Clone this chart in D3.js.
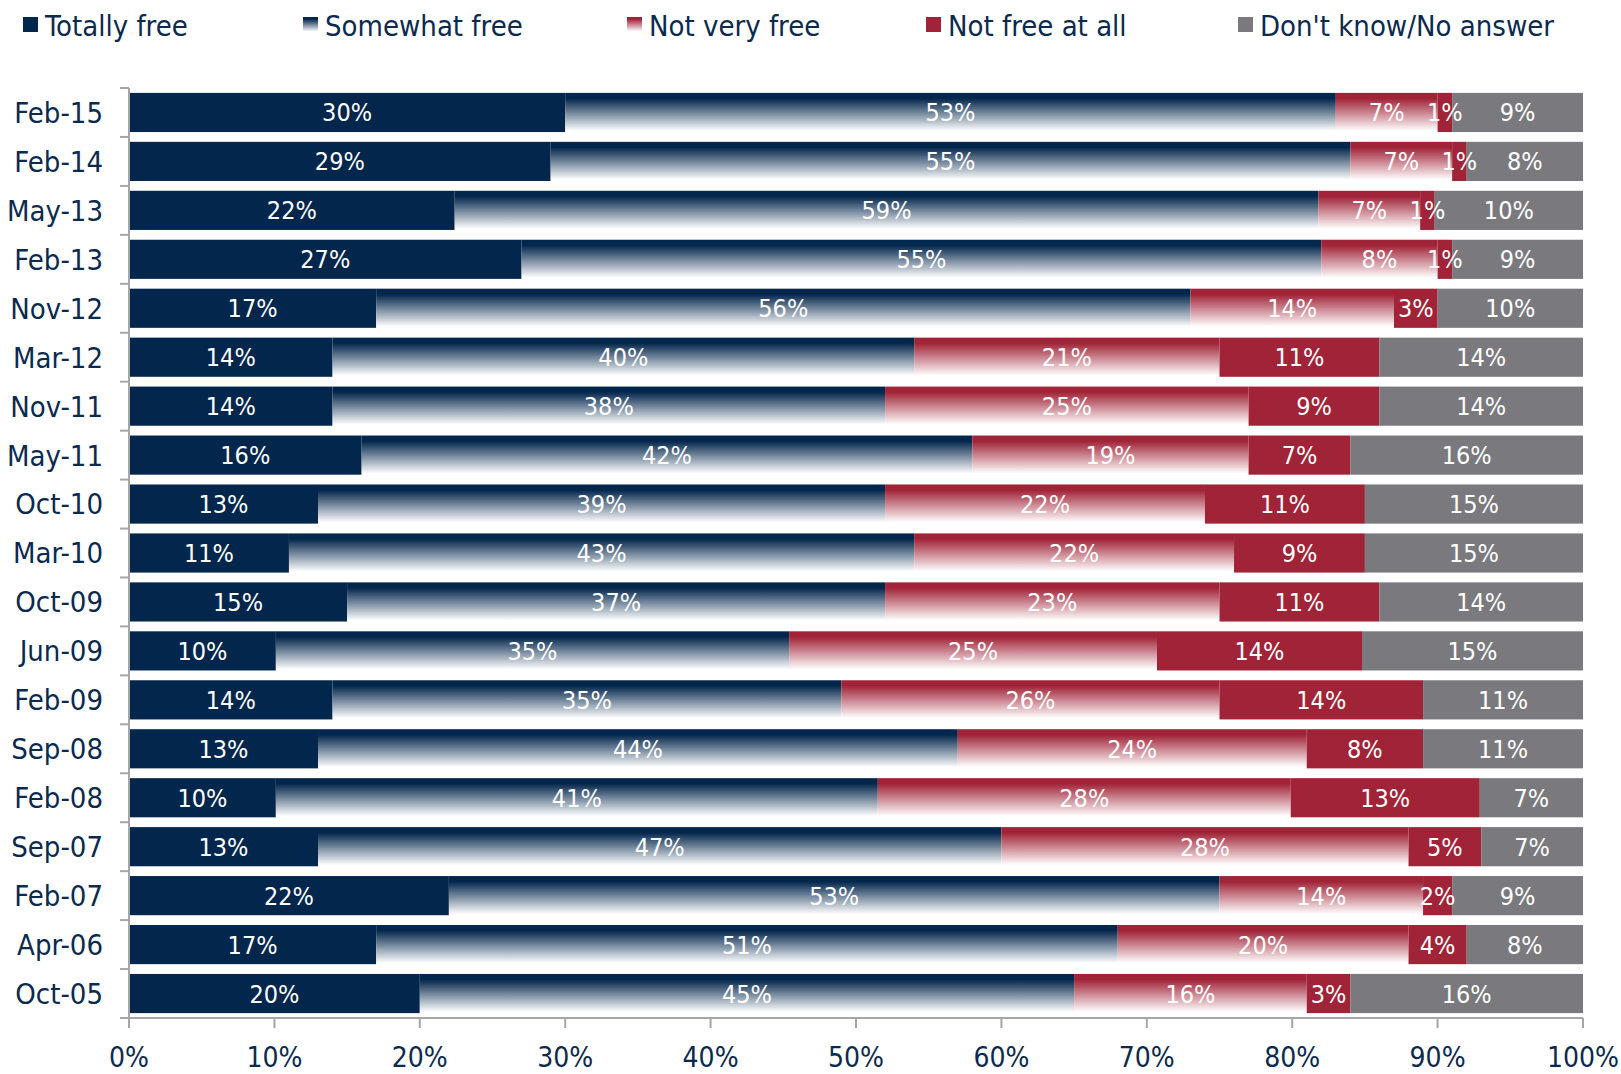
<!DOCTYPE html>
<html><head><meta charset="utf-8">
<script src="https://cdn.jsdelivr.net/npm/d3@7/dist/d3.min.js"></script>
<style>
html,body{margin:0;padding:0;background:#fff;}
svg{display:block;}
text{font-family:"DejaVu Sans Condensed","DejaVu Sans",sans-serif;}
</style></head>
<body>
<svg id="chart" width="1621" height="1074"></svg>
<script>
const categories = ["Feb-15","Feb-14","May-13","Feb-13","Nov-12","Mar-12","Nov-11","May-11","Oct-10","Mar-10","Oct-09","Jun-09","Feb-09","Sep-08","Feb-08","Sep-07","Feb-07","Apr-06","Oct-05"];
const seriesNames = ["Totally free","Somewhat free","Not very free","Not free at all","Don't know/No answer"];
const totallyFree   = [30,29,22.4,27,17,14,14,16,13,11,15,10.1,14,13,10.1,13,22,17,20];
const somewhatFree  = [53,55,59.4,55,56,40,38,42,39,43,37,35.3,35,44,41.4,47,53,51,45];
const notVeryFree   = [7,7,7,8,14,21,25,19,22,22,23,25.3,26,24,28.4,28,14,20,16];
const notFreeAtAll  = [1,1,1,1,3,11,9,7,11,9,11,14.1,14,8,13,5,2,4,3];
const dontKnow      = [9,8,10.2,9,10,14,14,16,15,15,14,15.2,11,11,7.1,7,9,8,16];
const xTicks = [0,10,20,30,40,50,60,70,80,90,100];

const seriesValues = [totallyFree, somewhatFree, notVeryFree, notFreeAtAll, dontKnow];
const baseColors = ["#03264c","#03264c","#a02337","#a02337","#7a7a7e"];
const gradient = [false,true,true,false,false];
const textColor = "#0b2a4e";

const svg = d3.select("#chart");
const defs = svg.append("defs");
const fills = baseColors.map((c,i)=>{
  if(!gradient[i]) return c;
  const id = "grad"+i;
  const g = defs.append("linearGradient").attr("id",id)
    .attr("x1",0).attr("y1",0).attr("x2",0).attr("y2",1);
  g.append("stop").attr("offset","0%").attr("stop-color",c);
  g.append("stop").attr("offset","14%").attr("stop-color",c);
  g.append("stop").attr("offset","97%").attr("stop-color","#ffffff");
  g.append("stop").attr("offset","100%").attr("stop-color","#ffffff");
  return "url(#"+id+")";
});

const margin = {left:129, right:1583, top:88, bottom:1018};
const x = d3.scaleLinear().domain([0,100]).range([margin.left, margin.right]);
const y = d3.scaleBand().domain(categories).range([margin.top, margin.bottom]).paddingInner(0.2).paddingOuter(0.1);

// stacked data
const rows = categories.map((c,i)=>{
  const o = {cat:c};
  seriesNames.forEach((s,j)=>o[s]=seriesValues[j][i]);
  return o;
});
const stack = d3.stack().keys(seriesNames)(rows);

const gBars = svg.append("g");
stack.forEach((layer,j)=>{
  gBars.append("g").selectAll("rect").data(layer).enter().append("rect")
    .attr("x", d=>x(d[0]))
    .attr("y", d=>y(d.data.cat))
    .attr("width", d=>x(d[1])-x(d[0]))
    .attr("height", y.bandwidth())
    .attr("fill", fills[j]);
});
const gLabels = svg.append("g");
stack.forEach((layer,j)=>{
  gLabels.append("g").selectAll("text").data(layer).enter().append("text")
    .attr("x", d=>(x(d[0])+x(d[1]))/2)
    .attr("y", d=>y(d.data.cat)+y.bandwidth()/2)
    .attr("dy","0.36em")
    .attr("text-anchor","middle")
    .attr("fill","#ffffff")
    .attr("font-size",25)
    .text(d=>Math.round(d[1]-d[0])+"%");
});

// y axis
const yAxis = svg.append("g");
yAxis.append("line").attr("x1",margin.left).attr("x2",margin.left)
  .attr("y1",margin.top).attr("y2",margin.bottom)
  .attr("stroke","#a6a6a6").attr("stroke-width",2);
const boundaries = categories.map(c=>y(c)-y.step()*y.paddingInner()/2);
boundaries.push(margin.bottom);
yAxis.selectAll("line.t").data(boundaries).enter().append("line")
  .attr("class","t")
  .attr("x1",margin.left-9).attr("x2",margin.left)
  .attr("y1",d=>d).attr("y2",d=>d)
  .attr("stroke","#a6a6a6").attr("stroke-width",2);
yAxis.selectAll("text").data(categories).enter().append("text")
  .attr("x",103)
  .attr("y",d=>y(d)+y.bandwidth()/2)
  .attr("dy","0.36em")
  .attr("text-anchor","end")
  .attr("fill",textColor)
  .attr("font-size",29)
  .text(d=>d);

// x axis
const xAxis = svg.append("g");
xAxis.append("line").attr("x1",margin.left).attr("x2",margin.right)
  .attr("y1",margin.bottom).attr("y2",margin.bottom)
  .attr("stroke","#a6a6a6").attr("stroke-width",2);
xAxis.selectAll("line.t").data(xTicks).enter().append("line")
  .attr("class","t")
  .attr("x1",d=>x(d)).attr("x2",d=>x(d))
  .attr("y1",margin.bottom).attr("y2",margin.bottom+10)
  .attr("stroke","#a6a6a6").attr("stroke-width",2);
xAxis.selectAll("text").data(xTicks).enter().append("text")
  .attr("x",d=>x(d))
  .attr("y",1067)
  .attr("text-anchor","middle")
  .attr("fill",textColor)
  .attr("font-size",28)
  .text(d=>d+"%");

// legend
const legendX = [23,303,627,926,1238];
const legend = svg.append("g");
seriesNames.forEach((s,j)=>{
  legend.append("rect").attr("x",legendX[j]).attr("y",17).attr("width",15).attr("height",15)
    .attr("fill",fills[j]);
  legend.append("text").attr("x",legendX[j]+22).attr("y",36)
    .attr("fill",textColor).attr("font-size",29).text(s);
});
</script>
</body></html>
